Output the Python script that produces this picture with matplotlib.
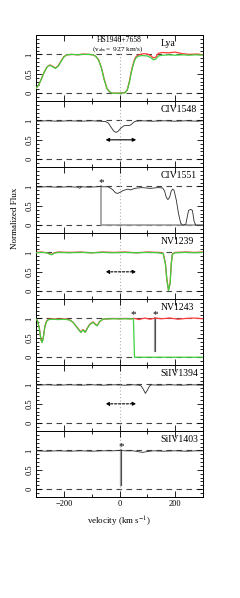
import matplotlib
matplotlib.use("Agg")
import matplotlib.pyplot as plt
from matplotlib.ticker import MultipleLocator

plt.rcParams["font.family"] = ["Liberation Serif", "DejaVu Serif"]
plt.rcParams["mathtext.fontset"] = "stix"

# panel names
ions = ["Lya", "CIV1548", "CIV1551", "NV1239", "NV1243", "SiIV1394", "SiIV1403"]

# Lya (red + green spectra)
v_lya = [-300, -290, -280, -270, -260, -250, -240, -230, -220, -210, -200, -190,
         -170, -150, -130, -110, -95, -85, -75, -65, -55, -45, -35, -25, 0, 20,
         28, 36, 42, 48, 54, 60, 70, 85, 100, 112, 122, 130, 140, 155, 175, 200,
         225, 250, 275, 300]
f_lya_red = [0.12, 0.22, 0.38, 0.55, 0.68, 0.73, 0.69, 0.65, 0.71, 0.83, 0.94, 0.99,
             1.0, 0.99, 1.01, 1.0, 0.99, 0.95, 0.86, 0.66, 0.36, 0.12, 0.03, 0.0, 0.0, 0.02,
             0.09, 0.32, 0.55, 0.73, 0.87, 0.95, 0.99, 1.02, 1.01, 0.97, 0.91, 0.93, 1.03,
             1.05, 1.04, 1.06, 1.02, 1.0, 1.01, 0.99]
f_lya_green = [0.12, 0.22, 0.38, 0.55, 0.68, 0.72, 0.68, 0.64, 0.70, 0.82, 0.93, 0.99,
               1.0, 0.99, 1.0, 1.0, 0.99, 0.95, 0.85, 0.65, 0.35, 0.12, 0.03, 0.0, 0.0, 0.01,
               0.08, 0.30, 0.52, 0.70, 0.84, 0.92, 0.96, 0.97, 0.96, 0.92, 0.86, 0.88, 0.96,
               0.98, 0.99, 0.98, 0.99, 0.98, 0.99, 0.98]

# CIV1548 (black)
v_c1548 = [-300, -260, -220, -180, -140, -100, -70, -50, -40, -30, -20, -12, -5, 5,
           15, 25, 35, 42, 50, 58, 80, 120, 160, 200, 240, 280, 300]
f_c1548 = [0.98, 0.99, 0.98, 0.99, 0.98, 0.99, 0.98, 0.97, 0.93, 0.82, 0.72, 0.69,
           0.72, 0.80, 0.86, 0.87, 0.87, 0.89, 0.95, 0.98, 0.99, 0.98, 0.99, 0.98,
           0.99, 0.98, 0.99]

# CIV1551 (black)
v_c1551 = [-300, -260, -220, -180, -150, -143, -136, -110, -80, -68, -62, -40, -25,
           -15, -8, 0, 15, 30, 40, 55, 80, 110, 140, 155, 162, 168, 174, 180, 186,
           191, 196, 204, 212, 220, 228, 238, 243, 248, 256, 262, 268, 274, 300]
f_c1551 = [0.98, 0.99, 0.98, 0.99, 0.98, 0.95, 0.99, 0.98, 0.99, 1.0, 0.99, 0.99,
           0.92, 0.84, 0.82, 0.84, 0.90, 0.93, 0.91, 0.95, 0.97, 0.95, 0.97, 0.96,
           0.88, 0.72, 0.66, 0.72, 0.88, 0.93, 0.90, 0.65, 0.30, 0.05, 0.0, 0.02,
           0.20, 0.38, 0.41, 0.38, 0.10, 0.0, 0.0]
# masked pixels (grey)
v_c1551_mask = [-65, -65, 300]
f_c1551_mask = [1.0, 0.0, 0.0]

# NV1239 (red + green)
v_n1239 = [-300, -280, -260, -250, -242, -235, -220, -180, -140, -100, -60, -20, 20,
           60, 100, 140, 157, 165, 170, 176, 182, 186, 190, 200, 240, 270, 300]
f_n1239_red = [1.0, 1.01, 0.99, 0.96, 0.95, 0.99, 1.01, 1.0, 1.01, 0.99, 1.01, 1.0,
               1.01, 0.99, 1.01, 1.0, 0.98, 0.72, 0.32, 0.03, 0.22, 0.72, 0.96, 1.0,
               1.01, 1.0, 1.01]
f_n1239_green = [0.99, 1.0, 0.99, 0.95, 0.94, 0.98, 1.0, 0.99, 1.0, 0.99, 1.0, 0.99,
                 1.0, 0.99, 1.0, 0.99, 0.97, 0.70, 0.30, 0.02, 0.20, 0.70, 0.95, 0.99,
                 1.0, 0.99, 1.0]

# NV1243 (red + green)
v_n1243 = [-300, -295, -288, -282, -278, -274, -268, -262, -255, -240, -220, -200,
           -180, -167, -149, -139, -131, -123, -115, -107, -95, -85, -80, -71, -60,
           -40, -20, 0, 20, 40, 50, 54, 70, 90, 110, 130, 150, 180, 210, 240, 270, 300]
f_n1243_red = [0.98, 0.95, 0.75, 0.45, 0.39, 0.50, 0.80, 0.93, 0.98, 0.99, 0.98, 0.99,
               0.97, 0.90, 0.74, 0.65, 0.71, 0.65, 0.76, 0.85, 0.91, 0.84, 0.82, 0.92,
               0.98, 0.99, 1.0, 0.99, 1.0, 0.99, 1.0, 1.0, 0.97, 1.01, 0.98, 1.01, 0.99,
               1.01, 0.98, 1.0, 1.01, 0.99]
f_n1243_green = [0.98, 0.95, 0.74, 0.44, 0.38, 0.49, 0.79, 0.92, 0.97, 0.98, 0.97, 0.98,
                 0.96, 0.90, 0.73, 0.64, 0.70, 0.64, 0.75, 0.84, 0.90, 0.83, 0.81, 0.92,
                 0.98, 0.99, 0.99, 0.99, 0.99, 0.99, 0.99, 0.0, 0.0, 0.0, 0.0, 0.0, 0.0,
                 0.0, 0.0, 0.0, 0.0, 0.0]
v_n1243_spike = [127, 127]
f_n1243_spike = [1.0, 0.17]

# SiIV1394 (black)
v_s1394 = [-300, -260, -220, -180, -140, -100, -60, -20, 20, 50, 70, 78, 85, 93,
           100, 108, 115, 140, 180, 220, 260, 300]
f_s1394 = [0.98, 0.99, 0.98, 0.99, 0.98, 0.99, 0.98, 0.99, 0.98, 0.99, 0.98, 0.96,
           0.88, 0.77, 0.85, 0.96, 0.99, 0.98, 0.99, 0.98, 0.99, 0.98]

# SiIV1403 (black)
v_s1403 = [-300, -260, -220, -180, -140, -100, -60, -20, 0, 20, 50, 65, 83, 100,
           120, 160, 200, 240, 280, 300]
f_s1403 = [0.99, 0.98, 0.99, 0.98, 0.99, 0.98, 0.99, 0.99, 1.0, 0.99, 0.99, 0.97,
           0.95, 0.97, 0.99, 0.98, 0.99, 0.98, 0.99, 0.99]
v_s1403_spike = [6, 6]
f_s1403_spike = [1.0, 0.11]

# asterisks (velocity, flux) per panel
stars = {"CIV1551": [(-65, 1.1)], "NV1243": [(51, 1.1), (127, 1.1)],
         "SiIV1403": [(5, 1.1)]}
# velocity-range arrows (panel, v1, v2, y, dashed)
arrows = [("CIV1548", -50, 60, 0.5, False), ("NV1239", -50, 60, 0.5, True),
          ("SiIV1394", -50, 60, 0.5, True)]

RED = "#ff3a3a"
GREEN = "#3fd03f"
BLACK = "#2a2a2a"
GREY = "#9a9a9a"

W, H = 240, 598
fig = plt.figure(figsize=(W / 100, H / 100), dpi=100)
top_px, ph = 35, 66
left, width = 36 / W, (203 - 36) / W

axes = {}
for i, ion in enumerate(ions):
    b = 1 - (top_px + ph * (i + 1)) / H
    ax = fig.add_axes([left, b, width, ph / H])
    axes[ion] = ax
    ax.set_xlim(-300, 300)
    ax.set_ylim(-0.2, 1.5)
    ax.axhline(1, color="#444444", lw=0.8, ls=(0, (5, 4)), zorder=1)
    ax.axhline(0, color="#444444", lw=0.8, ls=(0, (5, 4)), zorder=1)
    ax.axvline(0, color="#b0b0b0", lw=0.8, ls=(0, (1, 2)), zorder=1)
    ax.xaxis.set_major_locator(MultipleLocator(200))
    ax.xaxis.set_minor_locator(MultipleLocator(100))
    ax.yaxis.set_major_locator(MultipleLocator(0.5))
    ax.yaxis.set_minor_locator(MultipleLocator(0.1))
    ax.tick_params(which="both", direction="in", top=True, right=True,
                   labelsize=6, width=0.6, pad=2)
    ax.tick_params(which="major", length=4)
    ax.tick_params(which="minor", length=2)
    ax.set_yticks([0, 0.5, 1])
    ax.set_yticklabels(["0", "0.5", "1"], rotation=90, va="center")
    for s in ax.spines.values():
        s.set_linewidth(0.7)
    if i < len(ions) - 1:
        ax.tick_params(labelbottom=False)
    ax.text(147, 1.29, ion, ha="left", va="center", fontsize=7)

ax = axes["Lya"]
ax.plot(v_lya, f_lya_red, color=RED, lw=0.9, zorder=3)
ax.plot(v_lya, f_lya_green, color=GREEN, lw=0.9, zorder=4)
ax.text(0, 1.37, "HS1946+7658", ha="center", va="center", fontsize=5.5)
ax.text(-5, 1.14, r"(v$_{\rm abs}$=  927 km/s)", ha="center", va="center", fontsize=5.2)

axes["CIV1548"].plot(v_c1548, f_c1548, color=BLACK, lw=0.6, zorder=3)

ax = axes["CIV1551"]
ax.plot(v_c1551_mask, f_c1551_mask, color=GREY, lw=1.2, zorder=2)
ax.plot(v_c1551, f_c1551, color=BLACK, lw=0.6, zorder=3)

ax = axes["NV1239"]
ax.plot(v_n1239, f_n1239_red, color=RED, lw=0.9, zorder=3)
ax.plot(v_n1239, f_n1239_green, color=GREEN, lw=0.9, zorder=4)

ax = axes["NV1243"]
ax.plot(v_n1243_spike, f_n1243_spike, color=GREY, lw=1.6, zorder=2)
ax.plot(v_n1243_spike, f_n1243_spike, color=BLACK, lw=0.5, zorder=2)
ax.plot(v_n1243, f_n1243_red, color=RED, lw=0.9, zorder=3)
ax.plot(v_n1243, f_n1243_green, color=GREEN, lw=0.9, zorder=4)

axes["SiIV1394"].plot(v_s1394, f_s1394, color=BLACK, lw=0.6, zorder=3)

ax = axes["SiIV1403"]
ax.plot(v_s1403_spike, f_s1403_spike, color=GREY, lw=1.6, zorder=2)
ax.plot(v_s1403_spike, f_s1403_spike, color=BLACK, lw=0.5, zorder=2)
ax.plot(v_s1403, f_s1403, color=BLACK, lw=0.6, zorder=3)

for ion, pts in stars.items():
    for v, f in pts:
        axes[ion].text(v, f, "*", ha="center", va="center", fontsize=8, zorder=5)

for ion, v1, v2, y, dashed in arrows:
    axes[ion].annotate("", xy=(v2, y), xytext=(v1, y),
                       arrowprops=dict(arrowstyle="<|-|>", color="black", lw=0.8,
                                       ls=(0, (2, 1.5)) if dashed else "-",
                                       mutation_scale=5, shrinkA=0, shrinkB=0))

axes["SiIV1403"].set_xlabel(r"velocity (km s$^{-1}$)", fontsize=6.5, labelpad=5)
fig.text(15 / W, 1 - 218 / H, "Normalized Flux", rotation=90, ha="center",
         va="center", fontsize=6.5)

fig.savefig("out.png", dpi=100)
